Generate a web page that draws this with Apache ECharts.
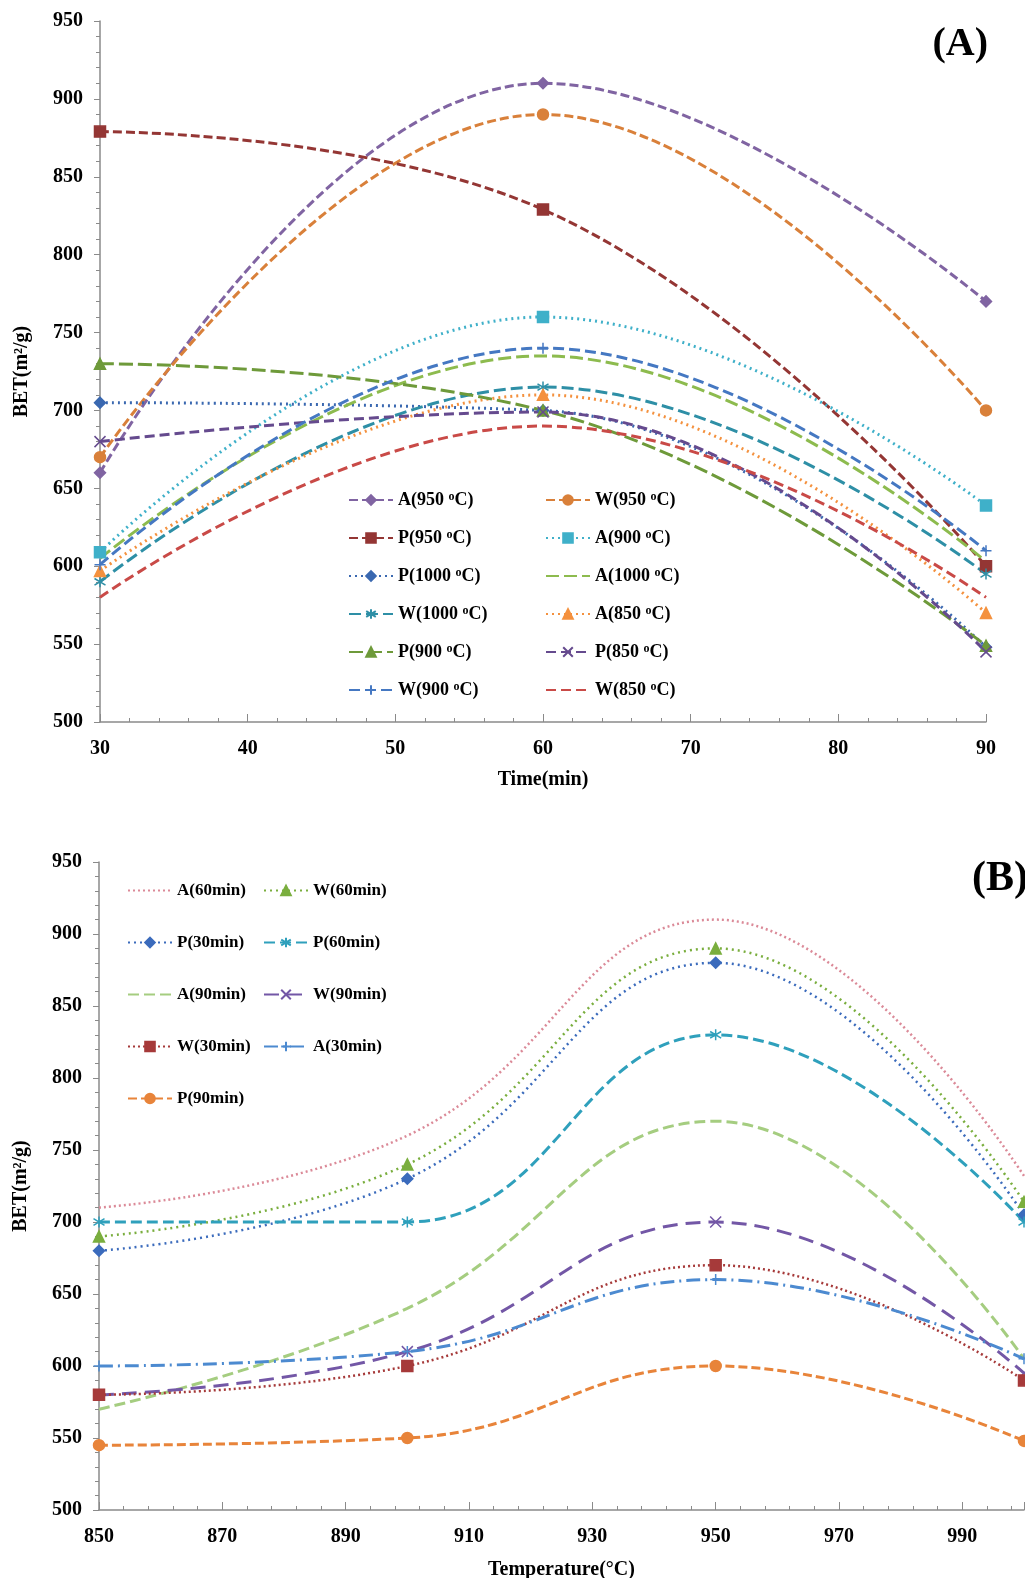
<!DOCTYPE html>
<html>
  <head>
    <meta charset="utf-8" />
    <script src="https://cdn.jsdelivr.net/npm/echarts@6/dist/echarts.min.js"></script>
    <style>
      html, body { margin: 0; padding: 0; background: #fff; }
    </style>
  </head>
  <body>
    <div id="main" style="width: 1025px; height: 1578px"></div>

    <script type="text/javascript">
      // (A) BET vs time
      const timeA = [30, 60, 90];
      const a950 = [660, 910, 770];
      const w950 = [670, 890, 700];
      const p950 = [879, 829, 600];
      const a900 = [609, 760, 639];
      const p1000 = [705, 700, 548];
      const a1000 = [605, 735, 603];
      const w1000 = [590, 715, 595];
      const a850 = [597, 710, 570];
      const p900 = [730, 700, 549];
      const p850 = [680, 699, 545];
      const w900 = [601, 740, 610];
      const w850 = [580, 690, 580];

      // (B) BET vs temperature
      const tempB = [850, 900, 950, 1000];
      const a60 = [710, 760, 910, 732];
      const w60 = [690, 740, 890, 714];
      const p30 = [680, 730, 880, 705];
      const p60 = [700, 700, 830, 700];
      const a90 = [570, 640, 770, 605];
      const w90 = [580, 610, 700, 595];
      const w30 = [580, 600, 670, 590];
      const a30 = [600, 610, 660, 605];
      const p90 = [545, 550, 600, 548];

      const font = "Liberation Serif";
      const symX = "path://M0,0L10,10M10,0L0,10";
      const symPlus = "path://M5,0L5,10M0,5L10,5";
      const symStar = "path://M5,0L5,10M0,2L10,8M10,2L0,8";
      const clear = "rgba(0,0,0,0)";

      function pairs(xs, ys) {
        return xs.map((x, i) => [x, ys[i]]);
      }

      function mk(name, xs, ys, color, dash, symbol, axis, width) {
        const noMark = symbol === "none";
        return {
          name: name,
          type: "line",
          xAxisIndex: axis,
          yAxisIndex: axis,
          data: pairs(xs, ys),
          smooth: 0.45,
          symbol: noMark ? "circle" : symbol,
          symbolSize: 11,
          showSymbol: !noMark,
          lineStyle: { color: color, width: width, type: dash, cap: "butt" },
          itemStyle: noMark
            ? { color: clear, borderColor: clear, borderWidth: 0 }
            : { color: color, borderColor: color, borderWidth: 1.5 },
          emphasis: { disabled: true },
          z: 3
        };
      }

      const dot = [2, 4];
      const seriesA = [
        mk("A(950 °C)", timeA, a950, "#8064A2", [9, 4], "diamond", 0, 3),
        mk("W(950 °C)", timeA, w950, "#D9803A", [9, 4], "circle", 0, 3),
        mk("P(950 °C)", timeA, p950, "#943634", [9, 4], "rect", 0, 3),
        mk("A(900 °C)", timeA, a900, "#3FB0C9", dot, "rect", 0, 3),
        mk("P(1000 °C)", timeA, p1000, "#3A68B0", dot, "diamond", 0, 3),
        mk("A(1000 °C)", timeA, a1000, "#8DBB4E", [13, 5], "none", 0, 3),
        mk("W(1000 °C)", timeA, w1000, "#2E8FA6", [12, 5], symStar, 0, 3),
        mk("A(850 °C)", timeA, a850, "#F4913E", dot, "triangle", 0, 3),
        mk("P(900 °C)", timeA, p900, "#6E9A3A", [14, 5], "triangle", 0, 3),
        mk("P(850 °C)", timeA, p850, "#654A8E", [10, 5], symX, 0, 3),
        mk("W(900 °C)", timeA, w900, "#4578C2", [11, 5], symPlus, 0, 3),
        mk("W(850 °C)", timeA, w850, "#C94A47", [10, 5], "none", 0, 3)
      ];

      const seriesB = [
        mk("A(60min)", tempB, a60, "#DB8A98", [2, 3], "none", 1, 2.5),
        mk("W(60min)", tempB, w60, "#7AAE3E", [2, 4], "triangle", 1, 2.5),
        mk("P(30min)", tempB, p30, "#3B6BBC", [2, 4], "diamond", 1, 2.5),
        mk("P(60min)", tempB, p60, "#2FA0BC", [11, 5], symStar, 1, 3),
        mk("A(90min)", tempB, a90, "#A5CD80", [11, 5], "none", 1, 3),
        mk("W(90min)", tempB, w90, "#7357A6", [15, 8], symX, 1, 3),
        mk("W(30min)", tempB, w30, "#A63A3A", [2, 3], "rect", 1, 2.5),
        mk("A(30min)", tempB, a30, "#4C8AD0", [14, 5, 2, 5], symPlus, 1, 3),
        mk("P(90min)", tempB, p90, "#E8843A", [9, 4], "circle", 1, 3)
      ];

      const labelStyle = { fontFamily: font, fontWeight: "bold", fontSize: 20, color: "#000" };

      function legendCol(names, left, top, gap, fs) {
        return {
          data: names,
          orient: "vertical",
          left: left,
          top: top,
          itemGap: gap,
          itemWidth: 44,
          itemHeight: 12,
          selectedMode: false,
          textStyle: {
            fontFamily: font,
            fontWeight: "bold",
            fontSize: fs,
            color: "#000",
            rich: { s: { fontFamily: font, fontWeight: "bold", fontSize: 12, color: "#000", verticalAlign: "top" } }
          },
          formatter: (n) => n.replace("°", "{s|o}")
        };
      }

      const namesA = seriesA.map((s) => s.name);
      const namesB = seriesB.map((s) => s.name);

      function xAxisCfg(grid, min, max, interval, name, gap) {
        return {
          type: "value",
          gridIndex: grid,
          min: min,
          max: max,
          interval: interval,
          name: name,
          nameLocation: "middle",
          nameGap: gap,
          nameTextStyle: labelStyle,
          axisLine: { lineStyle: { color: "#8a8a8a", width: 1.5 } },
          axisTick: { inside: true, length: 8, lineStyle: { color: "#8a8a8a" } },
          minorTick: { show: true, splitNumber: 5, length: 4, lineStyle: { color: "#8a8a8a" } },
          axisLabel: Object.assign({ margin: 17, showMaxLabel: max === 90 }, labelStyle),
          splitLine: { show: false }
        };
      }

      function yAxisCfg(grid) {
        return {
          type: "value",
          gridIndex: grid,
          min: 500,
          max: 950,
          interval: 50,
          name: "BET(m²/g)",
          nameLocation: "middle",
          nameGap: 68,
          nameTextStyle: labelStyle,
          axisLine: { show: true, lineStyle: { color: "#8a8a8a", width: 1.5 } },
          axisTick: { show: true, length: 6, lineStyle: { color: "#8a8a8a" } },
          minorTick: { show: true, splitNumber: 5, length: 4, lineStyle: { color: "#8a8a8a" } },
          axisLabel: Object.assign({ margin: 17 }, labelStyle),
          splitLine: { show: false }
        };
      }

      const option = {
        backgroundColor: "#fff",
        animation: false,
        title: [
          { text: "(A)", right: 32, top: 20, textStyle: { fontFamily: font, fontWeight: "bold", fontSize: 40, color: "#000" } },
          { text: "(B)", left: 967, top: 853, textStyle: { fontFamily: font, fontWeight: "bold", fontSize: 42, color: "#000" } }
        ],
        grid: [
          { left: 100, top: 21, right: 39, bottom: 856, outerBoundsMode: "none" },
          { left: 99, top: 862, right: 1, bottom: 68, outerBoundsMode: "none" }
        ],
        legend: [
          legendCol(namesA.filter((n, i) => i % 2 === 0), 343, 486, 20, 18),
          legendCol(namesA.filter((n, i) => i % 2 === 1), 540, 486, 20, 18),
          legendCol(namesB.filter((n, i) => i % 2 === 0), 122, 877, 35, 17),
          legendCol(namesB.filter((n, i) => i % 2 === 1), 258, 877, 35, 17)
        ],
        xAxis: [
          xAxisCfg(0, 30, 90, 10, "Time(min)", 48),
          xAxisCfg(1, 850, 1000, 20, "Temperature(°C)", 50)
        ],
        yAxis: [yAxisCfg(0), yAxisCfg(1)],
        series: seriesA.concat(seriesB)
      };

      const myChart = echarts.init(document.getElementById("main"));
      myChart.setOption(option);
    </script>
  </body>
</html>
